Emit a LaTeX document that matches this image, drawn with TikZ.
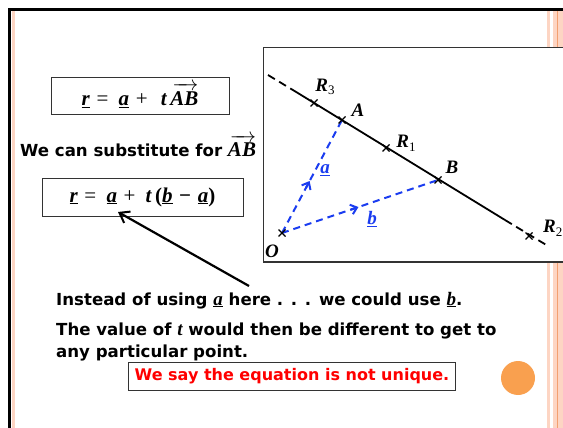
\documentclass[tikz,border=0pt]{standalone}
\usepackage{fontspec}
\setmainfont{DejaVu Sans}
\newfontfamily\mf{Liberation Serif}
\usetikzlibrary{arrows.meta,calc}
\definecolor{peach}{HTML}{FDD5C3}
\definecolor{orng}{HTML}{F9A04F}
\definecolor{lineor}{HTML}{F3A070}
\definecolor{bl}{HTML}{1A3CF0}
\newcommand{\mv}[1]{\underline{\mf\bfseries\itshape #1}}
\newcommand{\mi}[1]{{\mf\bfseries\itshape #1}}
\newcommand{\vecAB}{\leavevmode\vbox{\offinterlineskip\halign{##\cr
  \hskip2pt\rightarrowfill\cr\noalign{\kern1pt}\hbox{\mi{AB}}\cr}}}
\tikzset{
  txt/.style={anchor=base west, inner sep=0pt, font=\fontsize{16.6}{18}\selectfont\bfseries},
  eqbox/.style={draw=black!80, line width=0.9pt, inner sep=0pt, font=\fontsize{21}{24}\selectfont},
  pt/.style={inner sep=0pt, font=\fontsize{19}{22}\selectfont},
  blu/.style={bl, line width=2pt, dash pattern=on 7pt off 5pt},
  bbarb/.style={bl, line width=2pt, -{Straight Barb[length=6pt,width=10pt,line width=2pt]}},
  barb/.style={-{Straight Barb[length=9pt,width=13pt,line width=2pt]}},
  crossmark/.style={line width=1.3pt},
}
\begin{document}
\begin{tikzpicture}[x=1pt,y=-1pt]
\useasboundingbox (0,0) rectangle (563,428);
% background stripes
\fill[peach] (11.5,11) rectangle (14.5,428);
\fill[peach] (547,11) rectangle (549.5,428);
\fill[peach] (553,11) rectangle (563,428);
\fill[lineor] (557,11) rectangle (558.3,428);
% frame
\draw[line width=3pt] (9.5,428) -- (9.5,10) -- (563,10);
% graph box
\draw[fill=white, draw=black!80, line width=1.2pt] (263.5,47.5) rectangle (575,262);

% line points
\coordinate (L0) at (268,75);
\coordinate (S0) at (297,92.5);
\coordinate (S1) at (505,220);
\coordinate (L1) at (548,246);
\draw[line width=1.8pt, dash pattern=on 8pt off 5pt] (L0) -- (S0);
\draw[line width=1.8pt] (S0) -- (S1);
\draw[line width=1.8pt, dash pattern=on 8pt off 5pt] (S1) -- (L1);

\coordinate (O) at (282,233);
\coordinate (A) at (342,120);
\coordinate (B) at (438,180);
\coordinate (R1) at (386,148);
\coordinate (R2) at (529,236);
\coordinate (R3) at (314,103);

% blue vectors
\draw[blu] (O) -- (A);
\draw[blu] (O) -- (B);
\draw[bbarb] ($(O)!0.40!(A)$) -- ($(O)!0.46!(A)$);
\draw[bbarb] ($(O)!0.44!(B)$) -- ($(O)!0.49!(B)$);

% crosses
\foreach \p in {O,A,B,R1,R2,R3}{
  \draw[crossmark] ($(\p)+(-3.5,-3.5)$) -- ($(\p)+(3.5,3.5)$);
  \draw[crossmark] ($(\p)+(-3.5,3.5)$) -- ($(\p)+(3.5,-3.5)$);
}

% labels
\node[pt] (lR3) at (325,87) {\mi{R}\raisebox{-0.35ex}{\mf\fontsize{13}{14}\selectfont 3}};
\node[pt] (lA) at (358,110) {\mi{A}};
\node[pt] (lR1) at (406,143) {\mi{R}\raisebox{-0.35ex}{\mf\fontsize{13}{14}\selectfont 1}};
\node[pt] (lB) at (452,167) {\mi{B}};
\node[pt, anchor=west] (lR2) at (543,228) {\mi{R}\raisebox{-0.35ex}{\mf\fontsize{13}{14}\selectfont 2}};
\node[pt] (lO) at (272,251) {\mi{O}};
\node[pt, text=bl] (la) at (325,170) {\mv{a}};
\node[pt, text=bl] (lb) at (372,219) {\mv{b}};

% equation boxes
\node[eqbox, minimum width=178pt, minimum height=37pt] (eq1) at (140,95.5)
  {\raisebox{-5pt}{\mv{r} {\mf =}\, \mv{a} {\mf +}\ \ \mi{t}\,\vecAB}};
\node[txt] (sub) at (20,157) {We can substitute for {\fontsize{21}{24}\selectfont\vecAB}};
\node[eqbox, minimum width=201pt, minimum height=38pt] (eq2) at (142.5,197)
  {\mv{r} {\mf =}\, \mv{a} {\mf +}\, \mi{t}\,{\mf\bfseries(}\mv{b} {\mf\bfseries −} \mv{a}{\mf\bfseries )}};

% pointer arrow
\coordinate (tipA) at (118,212);
\coordinate (tailA) at (249,286);
\draw[line width=2.2pt, barb] (tailA) -- (tipA);

% bottom text
\node[txt] (t1) at (56,305) {Instead of using {\fontsize{19}{20}\selectfont\mv{a}} here . . . we could use {\fontsize{19}{20}\selectfont\mv{b}}.};
\node[txt] (t2) at (56,335) {The value of {\mf\fontsize{19}{20}\selectfont\itshape t} would then be different to get to};
\node[txt] (t3) at (56,357) {any particular point.};
\node[draw=black!80, line width=0.9pt, minimum width=327pt, minimum height=28pt, inner sep=0pt,
  font=\fontsize{16}{18}\selectfont\bfseries, text=red] (note) at (292,376) {We say the equation is not unique.};

% orange dot
\fill[orng] (518,378) circle (17);
\end{tikzpicture}
\end{document}
